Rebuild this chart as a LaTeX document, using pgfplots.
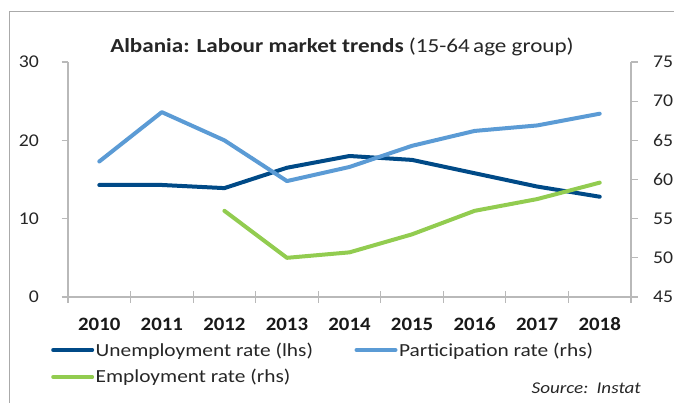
\documentclass[border=0pt]{standalone}
\usepackage{fontspec}
\setmainfont{Carlito}[FakeStretch=1.16]
\newfontfamily\numfont{Carlito}[FakeStretch=1.1]
\usepackage{pgfplots}
\pgfplotsset{compat=1.18}
\definecolor{unemp}{RGB}{0,74,135}
\definecolor{part}{RGB}{91,155,213}
\definecolor{empl}{RGB}{146,204,80}
\definecolor{axgray}{RGB}{185,185,185}
\definecolor{framegray}{RGB}{170,170,170}
\definecolor{txt}{RGB}{38,38,38}
\pgfplotsset{
  base/.style={
    at={(68bp,106bp)}, anchor=south west, scale only axis,
    width=563bp, height=235bp,
    xmin=-0.5, xmax=8.5,
    axis line style={axgray, line width=1.2bp, -},
    tick style={axgray, line width=1.2bp},
    /pgf/number format/assume math mode=true,
    ticklabel style={font=\numfont\fontsize{18}{22}\selectfont, text=txt},
  },
  legend image code/.code={\draw[#1, line cap=round] (0bp,0bp) -- (39bp,0bp);},
}
\begin{document}
\begin{tikzpicture}
\useasboundingbox (0,0) rectangle (674bp,403bp);
\draw[framegray, line width=1bp] (9bp,0bp) -- (9bp,391bp) -- (674bp,391bp);
\begin{axis}[base,
  ymin=0, ymax=30,
  axis y line*=left, axis x line*=bottom,
  ytick={0,10,20,30},
  ytick align=outside, major tick length=6.5bp,
  xtick={0,...,8},
  xticklabels={2010,2011,2012,2013,2014,2015,2016,2017,2018},
  xticklabel style={font=\numfont\fontsize{19}{22}\selectfont\bfseries, text=black!90, yshift=-14bp},
  major x tick style={draw=none},
  minor xtick={-0.5,0.5,...,8.5},
  minor tick length=12bp, xtick align=center,
  yticklabel style={xshift=-19bp},
]
\addplot[unemp, line width=4bp, line cap=round, line join=round] coordinates {
(0,14.3) (1,14.3) (2,13.9) (3,16.5) (4,18.0) (5,17.5) (6,15.8) (7,14.1) (8,12.8)};
\end{axis}
\begin{axis}[base,
  ymin=45, ymax=75,
  axis y line*=right, axis x line=none,
  ytick={45,50,...,75},
  ytick align=outside, major tick length=6.5bp,
  yticklabel style={xshift=12bp},
  legend columns=2,
  legend cell align=left,
  legend style={at={(-0.0355,-0.178)}, anchor=north west, draw=none, fill=none,
    font=\fontsize{18.5}{22}\selectfont, text=txt,
    nodes={inner sep=1.5bp},
    row sep=9bp,
    /tikz/every even column/.append style={column sep=40bp}},
]
\addlegendimage{unemp, line width=4bp}
\addlegendentry{Unemployment rate (lhs)}
\addplot[part, line width=4bp, line cap=round, line join=round] coordinates {
(0,62.3) (1,68.6) (2,65.0) (3,59.8) (4,61.6) (5,64.3) (6,66.2) (7,66.9) (8,68.4)};
\addlegendentry{Participation rate (rhs)}
\addplot[empl, line width=4bp, line cap=round, line join=round] coordinates {
(2,56.0) (3,50.0) (4,50.7) (5,53.0) (6,56.0) (7,57.5) (8,59.6)};
\addlegendentry{Employment rate (rhs)}
\end{axis}
\node[anchor=base, text=txt] at (342bp,350bp) {\fontsize{20}{24}\selectfont\textbf{Albania: Labour market trends} (15-64\,age group)};
\node[anchor=base east, text=txt, inner sep=0pt] at (641bp,10bp) {\fontsize{16.5}{20}\selectfont\itshape Source:\enspace Instat};
\end{tikzpicture}
\end{document}
